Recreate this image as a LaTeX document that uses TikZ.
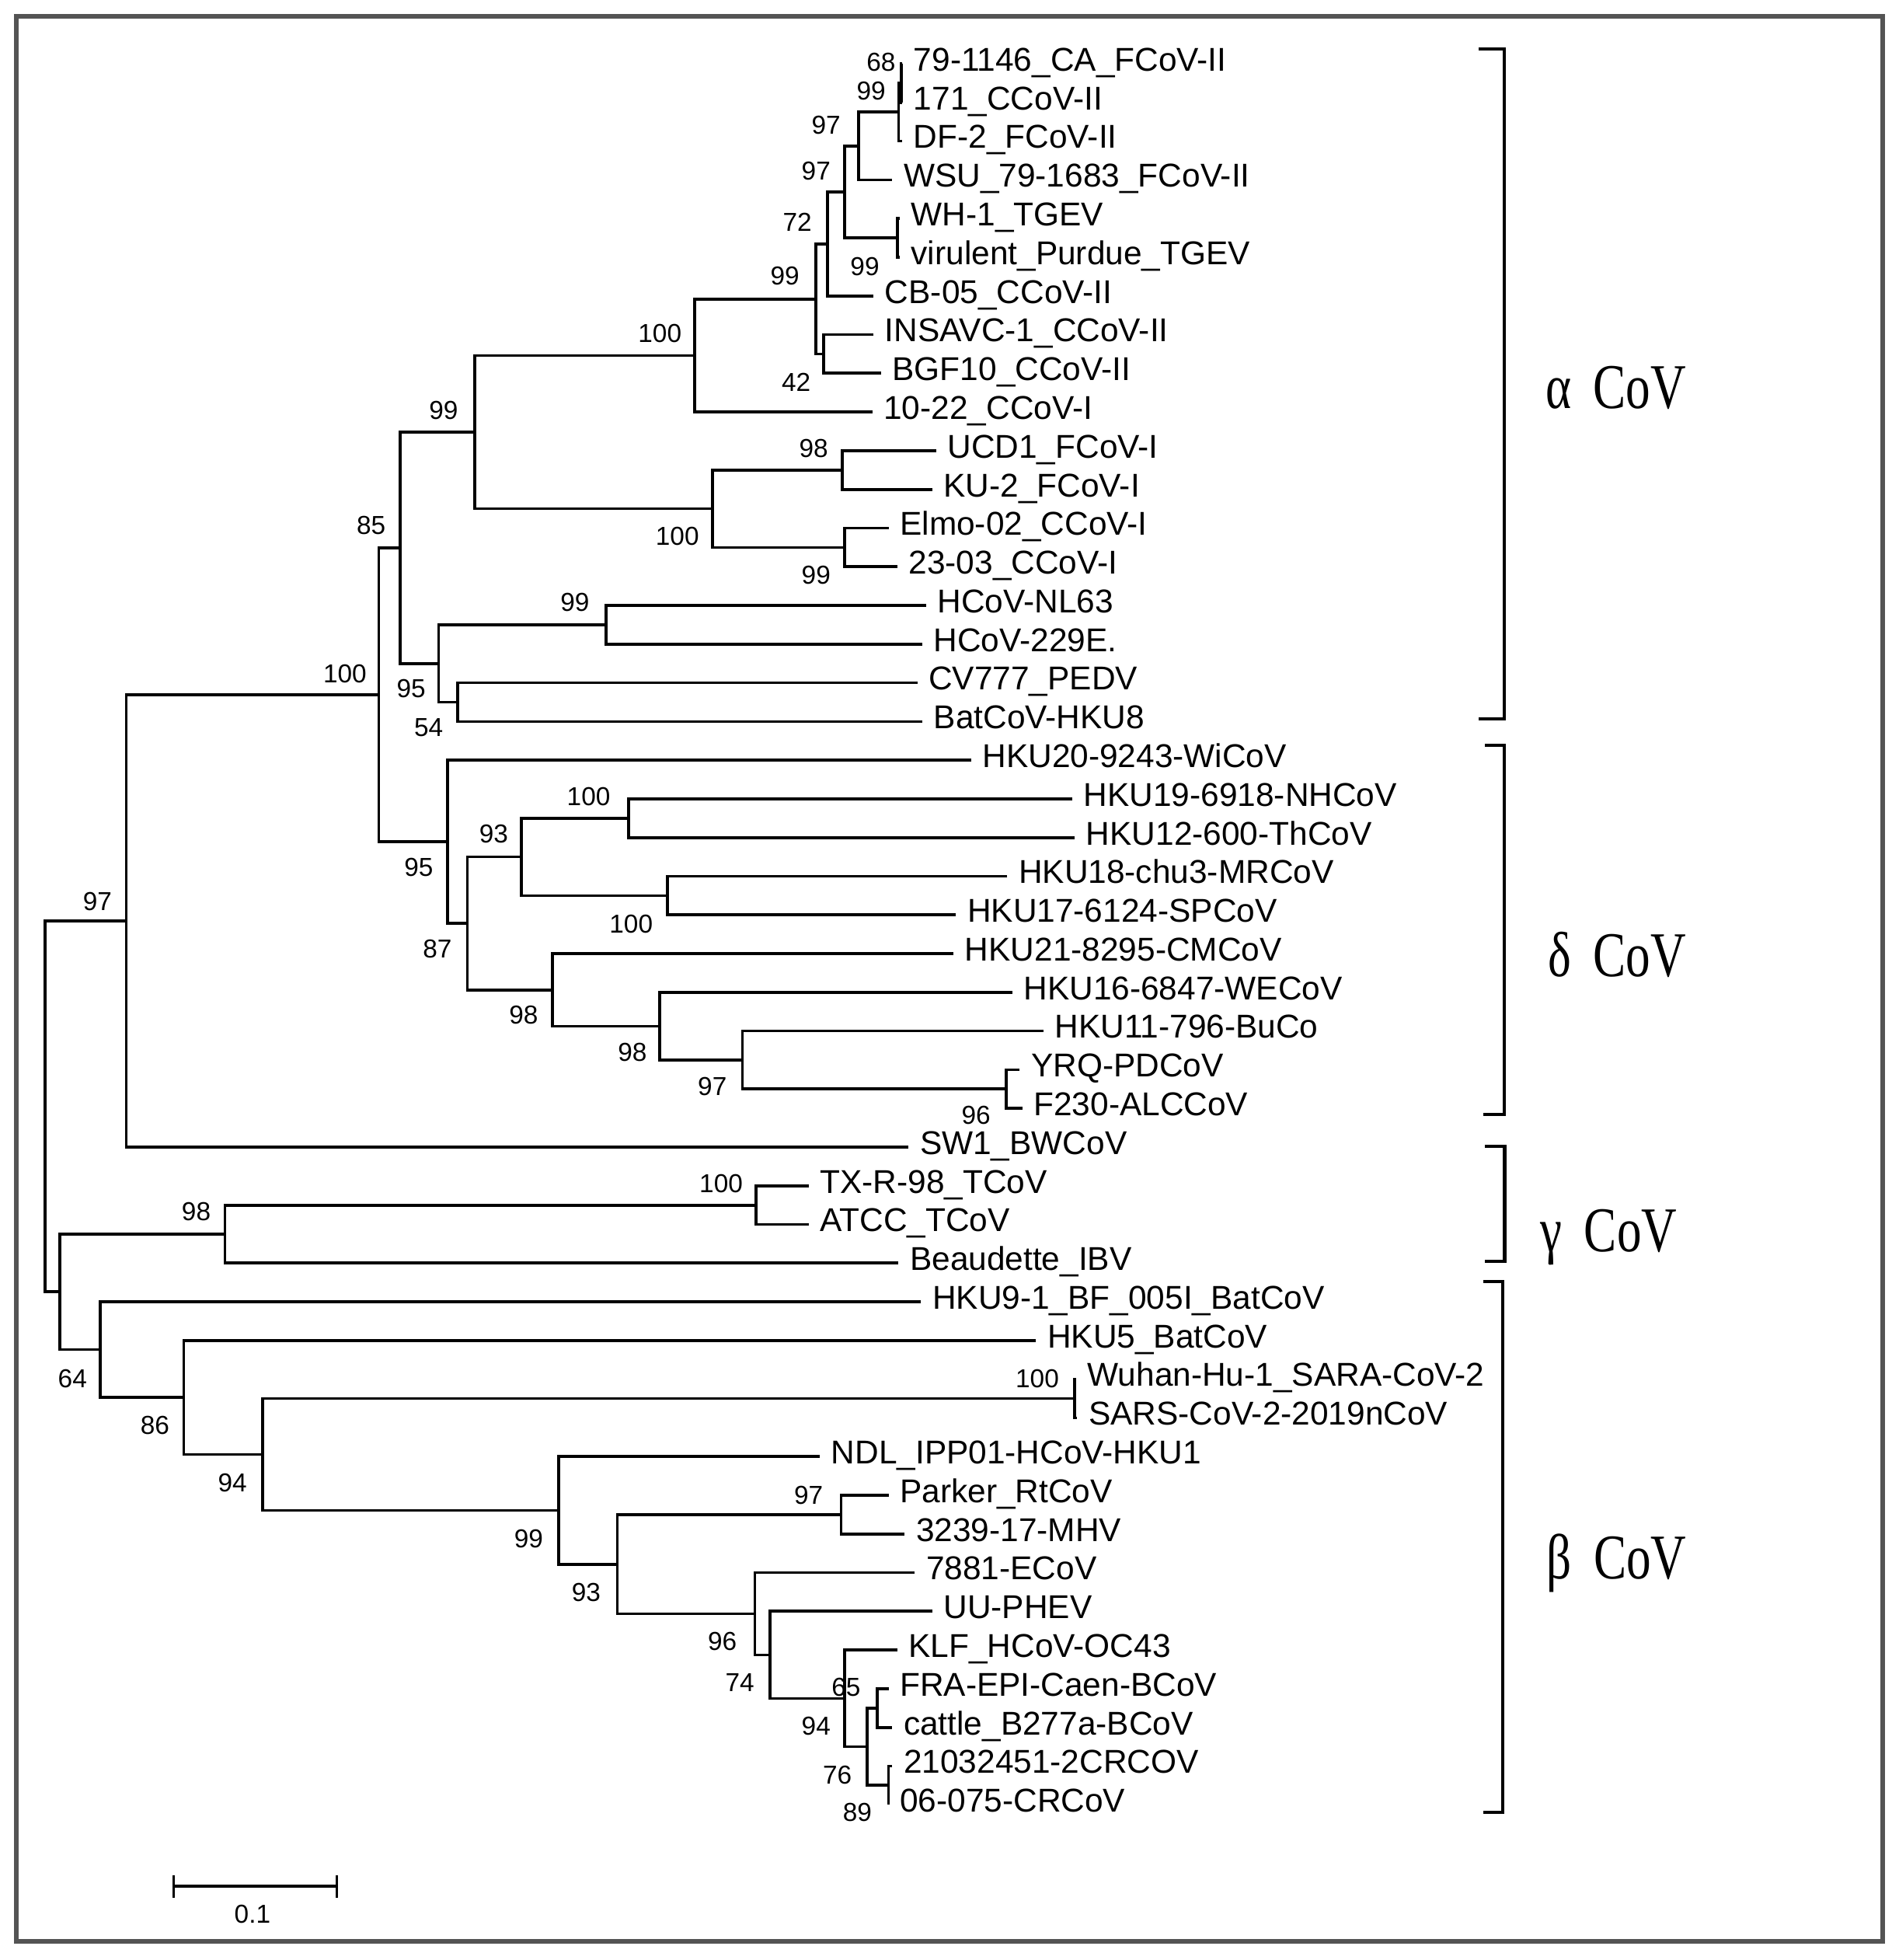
\documentclass[tikz,border=0pt]{standalone}
\usepackage{graphicx}
\usepackage{fontspec}
\setmainfont{Liberation Sans}
\newfontfamily\cladefont{Liberation Serif}
\usepackage{tikz}
\usetikzlibrary{positioning}

\begin{document}
\begin{tikzpicture}[x=0.01cm,y=-0.01cm,
  branch/.style={line width=0.65pt},
  leaf/.style={anchor=west,font=\fontsize{7.5}{8}\selectfont,inner xsep=2.4pt,inner ysep=0pt,text height=5.3pt,text depth=2pt},
  boot/.style={font=\fontsize{5.9}{6}\selectfont,inner sep=0pt},
  clade/.style={anchor=base west,font=\cladefont\fontsize{14.5}{16}\selectfont,inner sep=0pt},
  bracket/.style={line width=0.75pt},
  frame/.style={draw=black!67,line width=1.1pt}]
\useasboundingbox (0,0) rectangle (1519,1568);
\draw[frame] (12.9,12.9) rectangle (1506.5,1553);

% leaves
\node[leaf] (l1) at (722,51) {79-1146\_CA\_FCoV-II};
\node[leaf] (l2) at (722,82) {171\_CCoV-II};
\node[leaf] (l3) at (722,112.9) {DF-2\_FCoV-II};
\node[leaf] (l4) at (714,143.9) {WSU\_79-1683\_FCoV-II};
\node[leaf] (l5) at (720,174.8) {WH-1\_TGEV};
\node[leaf] (l6) at (720,205.8) {virulent\_Purdue\_TGEV};
\node[leaf] (l7) at (699,236.7) {CB-05\_CCoV-II};
\node[leaf] (l8) at (699,267.7) {INSAVC-1\_CCoV-II};
\node[leaf] (l9) at (705,298.6) {BGF10\_CCoV-II};
\node[leaf] (l10) at (698,329.6) {10-22\_CCoV-I};
\node[leaf] (l11) at (749,360.5) {UCD1\_FCoV-I};
\node[leaf] (l12) at (746,391.5) {KU-2\_FCoV-I};
\node[leaf] (l13) at (711,422.4) {Elmo-02\_CCoV-I};
\node[leaf] (l14) at (718,453.4) {23-03\_CCoV-I};
\node[leaf] (l15) at (741,484.3) {HCoV-NL63};
\node[leaf] (l16) at (738,515.3) {HCoV-229E.};
\node[leaf] (l17) at (734,546.2) {CV777\_PEDV};
\node[leaf] (l18) at (738,577.2) {BatCoV-HKU8};
\node[leaf] (l19) at (777,608.1) {HKU20-9243-WiCoV};
\node[leaf] (l20) at (858,639.1) {HKU19-6918-NHCoV};
\node[leaf] (l21) at (860,670) {HKU12-600-ThCoV};
\node[leaf] (l22) at (806,701) {HKU18-chu3-MRCoV};
\node[leaf] (l23) at (765,731.9) {HKU17-6124-SPCoV};
\node[leaf] (l24) at (763,762.9) {HKU21-8295-CMCoV};
\node[leaf] (l25) at (810,793.8) {HKU16-6847-WECoV};
\node[leaf] (l26) at (835,824.8) {HKU11-796-BuCo};
\node[leaf] (l27) at (816,855.7) {YRQ-PDCoV};
\node[leaf] (l28) at (818,886.7) {F230-ALCCoV};
\node[leaf] (l29) at (727,917.6) {SW1\_BWCoV};
\node[leaf] (l30) at (647,948.6) {TX-R-98\_TCoV};
\node[leaf] (l31) at (647,979.5) {ATCC\_TCoV};
\node[leaf] (l32) at (719,1010.5) {Beaudette\_IBV};
\node[leaf] (l33) at (737,1041.4) {HKU9-1\_BF\_005I\_BatCoV};
\node[leaf] (l34) at (829,1072.4) {HKU5\_BatCoV};
\node[leaf] (l35) at (861,1103.3) {Wuhan-Hu-1\_SARA-CoV-2};
\node[leaf] (l36) at (862,1134.3) {SARS-CoV-2-2019nCoV};
\node[leaf] (l37) at (656,1165.2) {NDL\_IPP01-HCoV-HKU1};
\node[leaf] (l38) at (711,1196.2) {Parker\_RtCoV};
\node[leaf] (l39) at (724,1227.1) {3239-17-MHV};
\node[leaf] (l40) at (732,1258.1) {7881-ECoV};
\node[leaf] (l41) at (746,1289) {UU-PHEV};
\node[leaf] (l42) at (718,1320) {KLF\_HCoV-OC43};
\node[leaf] (l43) at (711,1350.9) {FRA-EPI-Caen-BCoV};
\node[leaf] (l44) at (714,1381.9) {cattle\_B277a-BCoV};
\node[leaf] (l45) at (714,1412.8) {21032451-2CRCOV};
\node[leaf] (l46) at (711,1443.8) {06-075-CRCoV};

% inner nodes
\coordinate (a68) at (721,66.5);
\coordinate (a99t) at (719,89.7);
\coordinate (a97t) at (687,116.8);
\coordinate (tgev) at (718,190.3);
\coordinate (a97b) at (676,153.5);
\coordinate (a72) at (662,195.1);
\coordinate (a42) at (659,283.2);
\coordinate (a99c) at (653,239.2);
\coordinate (a100) at (556,284.4);
\coordinate (fcov) at (674,376);
\coordinate (ccov) at (676,437.9);
\coordinate (a100b) at (570,407);
\coordinate (a99) at (380,345.7);
\coordinate (nl) at (485,499.8);
\coordinate (a54) at (366,561.7);
\coordinate (a95) at (351,530.8);
\coordinate (a85) at (320,438.3);
\coordinate (d100a) at (503,654.6);
\coordinate (d100b) at (534,716.5);
\coordinate (d93) at (417,685.5);
\coordinate (d96) at (805,871.2);
\coordinate (d97) at (594,848);
\coordinate (d98i) at (528,820.9);
\coordinate (d98) at (442,791.9);
\coordinate (d87) at (374,738.7);
\coordinate (d95) at (358,673.4);
\coordinate (n100) at (303,555.9);
\coordinate (n97) at (101,736.8);
\coordinate (g100) at (605,964.1);
\coordinate (g98) at (180,987.3);
\coordinate (sars) at (860,1118.8);
\coordinate (b97) at (673,1211.7);
\coordinate (bca) at (702,1366.4);
\coordinate (bcr) at (711,1428.3);
\coordinate (b76) at (694,1397.4);
\coordinate (b65) at (676,1358.7);
\coordinate (b74) at (616,1323.9);
\coordinate (b96) at (604,1291);
\coordinate (b93) at (494,1251.4);
\coordinate (b99) at (447,1208.3);
\coordinate (b94) at (210,1163.6);
\coordinate (b86) at (147,1118);
\coordinate (b64) at (80,1079.7);
\coordinate (gb) at (48,1033.5);
\coordinate (root) at (36,885.2);

% branches
\draw[branch] (l1.west) -| (a68) |- (l2.west);
\draw[branch] (a68) -| (a99t) |- (l3.west);
\draw[branch] (a99t) -| (a97t) |- (l4.west);
\draw[branch] (l5.west) -| (tgev) |- (l6.west);
\draw[branch] (a97t) -| (a97b) |- (tgev);
\draw[branch] (a97b) -| (a72) |- (l7.west);
\draw[branch] (l8.west) -| (a42) |- (l9.west);
\draw[branch] (a72) -| (a99c) |- (a42);
\draw[branch] (a99c) -| (a100) |- (l10.west);
\draw[branch] (l11.west) -| (fcov) |- (l12.west);
\draw[branch] (l13.west) -| (ccov) |- (l14.west);
\draw[branch] (fcov) -| (a100b) |- (ccov);
\draw[branch] (a100) -| (a99) |- (a100b);
\draw[branch] (l15.west) -| (nl) |- (l16.west);
\draw[branch] (l17.west) -| (a54) |- (l18.west);
\draw[branch] (nl) -| (a95) |- (a54);
\draw[branch] (a99) -| (a85) |- (a95);
\draw[branch] (l20.west) -| (d100a) |- (l21.west);
\draw[branch] (l22.west) -| (d100b) |- (l23.west);
\draw[branch] (d100a) -| (d93) |- (d100b);
\draw[branch] (l27.west) -| (d96) |- (l28.west);
\draw[branch] (l26.west) -| (d97) |- (d96);
\draw[branch] (l25.west) -| (d98i) |- (d97);
\draw[branch] (l24.west) -| (d98) |- (d98i);
\draw[branch] (d93) -| (d87) |- (d98);
\draw[branch] (l19.west) -| (d95) |- (d87);
\draw[branch] (a85) -| (n100) |- (d95);
\draw[branch] (n100) -| (n97) |- (l29.west);
\draw[branch] (l30.west) -| (g100) |- (l31.west);
\draw[branch] (g100) -| (g98) |- (l32.west);
\draw[branch] (l35.west) -| (sars) |- (l36.west);
\draw[branch] (l38.west) -| (b97) |- (l39.west);
\draw[branch] (l43.west) -| (bca) |- (l44.west);
\draw[branch] (l45.west) -| (bcr) |- (l46.west);
\draw[branch] (bca) -| (b76) |- (bcr);
\draw[branch] (l42.west) -| (b65) |- (b76);
\draw[branch] (l41.west) -| (b74) |- (b65);
\draw[branch] (l40.west) -| (b96) |- (b74);
\draw[branch] (b97) -| (b93) |- (b96);
\draw[branch] (l37.west) -| (b99) |- (b93);
\draw[branch] (sars) -| (b94) |- (b99);
\draw[branch] (l34.west) -| (b86) |- (b94);
\draw[branch] (l33.west) -| (b64) |- (b86);
\draw[branch] (g98) -| (gb) |- (b64);
\draw[branch] (n97) -| (root) |- (gb);

% bootstrap values
\node[boot] (s68) at (705,50) {68};
\node[boot] (s99t) at (697,73) {99};
\node[boot] (s97t) at (661,100) {97};
\node[boot] (s97b) at (653,137) {97};
\node[boot] (s72) at (638,178) {72};
\node[boot] (stgev) at (692,213) {99};
\node[boot] (s99c) at (628,221) {99};
\node[boot] (s42) at (637,306) {42};
\node[boot] (s100) at (528,267) {100};
\node[boot] (s99) at (355,328) {99};
\node[boot] (sfcov) at (651,359) {98};
\node[boot] (s100b) at (542,429) {100};
\node[boot] (sccov) at (653,460) {99};
\node[boot] (s85) at (297,420) {85};
\node[boot] (snl) at (460,482) {99};
\node[boot] (s95a) at (329,551) {95};
\node[boot] (s54) at (343,582) {54};
\node[boot] (sn100) at (276,539) {100};
\node[boot] (sn97) at (78,721) {97};
\node[boot] (sd95) at (335,694) {95};
\node[boot] (sd93) at (395,667) {93};
\node[boot] (sd100a) at (471,637) {100};
\node[boot] (sd100b) at (505,739) {100};
\node[boot] (sd87) at (350,759) {87};
\node[boot] (sd98) at (419,812) {98};
\node[boot] (sd98i) at (506,842) {98};
\node[boot] (sd97) at (570,869) {97};
\node[boot] (sd96) at (781,892) {96};
\node[boot] (sg100) at (577,947) {100};
\node[boot] (sg98) at (157,969) {98};
\node[boot] (sb64) at (58,1103) {64};
\node[boot] (sb86) at (124,1140) {86};
\node[boot] (sb94) at (186,1186) {94};
\node[boot] (ssars) at (830,1103) {100};
\node[boot] (sb99) at (423,1231) {99};
\node[boot] (sb93) at (469,1274) {93};
\node[boot] (sb97) at (647,1196) {97};
\node[boot] (sb96) at (578,1313) {96};
\node[boot] (sb74) at (592,1346) {74};
\node[boot] (sb65) at (677,1350) {65};
\node[boot] (sbca) at (653,1381) {94};
\node[boot] (sb76) at (670,1420) {76};
\node[boot] (sbcr) at (686,1450) {89};

% groups
\draw[bracket] (1183,39) -- (1203.5,39) -- (1203.5,575) -- (1183,575);
\draw[bracket] (1188,596) -- (1203.5,596) -- (1203.5,891.5) -- (1187,891.5);
\draw[bracket] (1188,917) -- (1204,917) -- (1204,1009) -- (1188,1009);
\draw[bracket] (1187,1025) -- (1202.5,1025) -- (1202.5,1450) -- (1187,1450);
\node[clade] (alpha) at (1236,326.5) {\scalebox{0.77}[1]{α\hspace{0.45em}CoV}};
\node[clade] (delta) at (1238,781) {\scalebox{0.77}[1]{δ\hspace{0.45em}CoV}};
\node[clade] (gamma) at (1232,1001) {\scalebox{0.77}[1]{γ\hspace{0.45em}CoV}};
\node[clade] (beta) at (1237,1263) {\scalebox{0.77}[1]{β\hspace{0.45em}CoV}};

% scale bar
\coordinate (barl) at (139,1509);
\coordinate (barr) at (269.5,1509);
\draw[branch] (barl) -- (barr);
\draw[branch] ([yshift=0.9mm]barl) -- ([yshift=-0.95mm]barl);
\draw[branch] ([yshift=0.9mm]barr) -- ([yshift=-0.95mm]barr);
\node[boot] (barlabel) at (202,1531) {0.1};
\end{tikzpicture}
\end{document}
